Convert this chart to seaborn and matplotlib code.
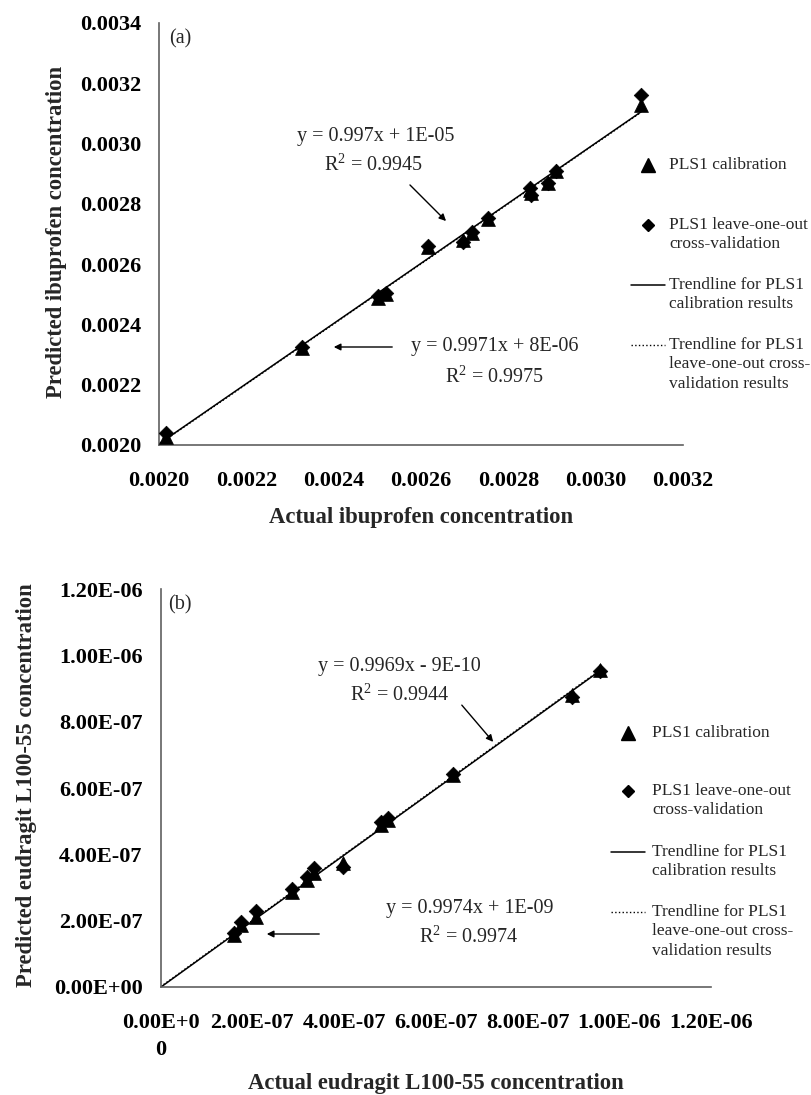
import numpy as np
import pandas as pd
import matplotlib
matplotlib.use("Agg")
import matplotlib.pyplot as plt
import seaborn as sns
from matplotlib.lines import Line2D

# ---------------- Data: panel (a) ibuprofen ----------------
ibu_actual = [0.002017, 0.002327, 0.002501, 0.002520, 0.002617, 0.002696,
              0.002716, 0.002754, 0.002849, 0.002851, 0.002891, 0.002910, 0.003104]
ibu_pred_cal = [0.002028, 0.002323, 0.002487, 0.002501, 0.002656, 0.002680,
                0.002704, 0.002749, 0.002845, 0.002836, 0.002870, 0.002910, 0.003128]
ibu_pred_cv = [0.002039, 0.002325, 0.002493, 0.002503, 0.002660, 0.002672,
               0.002706, 0.002751, 0.002853, 0.002829, 0.002868, 0.002908, 0.003161]
ibu_fit_cal = [0.997, 1e-05]
ibu_fit_cv = [0.9971, 8e-06]
ibu_ticks = [0.0020, 0.0022, 0.0024, 0.0026, 0.0028, 0.0030, 0.0032, 0.0034]
ibu_xticks = [0.0020, 0.0022, 0.0024, 0.0026, 0.0028, 0.0030, 0.0032]

# ---------------- Data: panel (b) eudragit ----------------
eud_actual = [1.59e-7, 1.75e-7, 2.07e-7, 2.86e-7, 3.19e-7, 3.35e-7, 3.98e-7,
              4.81e-7, 4.95e-7, 6.38e-7, 8.97e-7, 9.58e-7]
eud_pred_cal = [1.57e-7, 1.87e-7, 2.10e-7, 2.88e-7, 3.22e-7, 3.44e-7, 3.74e-7,
                4.90e-7, 5.05e-7, 6.40e-7, 8.80e-7, 9.58e-7]
eud_pred_cv = [1.64e-7, 1.96e-7, 2.28e-7, 2.95e-7, 3.33e-7, 3.59e-7, 3.63e-7,
               4.97e-7, 5.10e-7, 6.42e-7, 8.74e-7, 9.54e-7]
eud_fit_cal = [0.9969, -9e-10]
eud_fit_cv = [0.9974, 1e-09]
eud_ticks = [0.0, 2e-7, 4e-7, 6e-7, 8e-7, 1.0e-6, 1.2e-6]
eud_ytick_labels = ["0.00E+00", "2.00E-07", "4.00E-07", "6.00E-07", "8.00E-07", "1.00E-06", "1.20E-06"]
eud_xtick_labels = ["0.00E+0\n0", "2.00E-07", "4.00E-07", "6.00E-07", "8.00E-07", "1.00E-06", "1.20E-06"]

legend_labels = ["PLS1 calibration", "PLS1 leave-one-out\ncross-validation",
                 "Trendline for PLS1\ncalibration results",
                 "Trendline for PLS1\nleave-one-out cross-\nvalidation results"]

sns.set_theme(style="white")
plt.rcParams['font.family'] = ['Liberation Serif', 'DejaVu Serif']
plt.rcParams['mathtext.fontset'] = 'custom'
plt.rcParams['mathtext.rm'] = 'Liberation Serif'

W, H = 812, 1095
fig = plt.figure(figsize=(W / 100, H / 100), dpi=100)
fig.patch.set_facecolor("white")


def fx(px):
    return px / W


def fy(py):
    return 1 - py / H


SPINE = "#606060"
TICK_FS = 16
LAB_FS = 16.3
ANN_FS = 14.5
LEG_FS = 12.5


def style_axes(ax):
    sns.despine(ax=ax)
    for s in ["left", "bottom"]:
        ax.spines[s].set_color(SPINE)
        ax.spines[s].set_linewidth(1.2)
    ax.tick_params(axis="both", which="major", direction="out", length=7, width=1.1,
                   color=SPINE, labelsize=TICK_FS, labelcolor="black")
    ax.tick_params(axis="y", pad=6)
    ax.tick_params(axis="x", pad=12)
    for lab in ax.get_xticklabels() + ax.get_yticklabels():
        lab.set_fontweight("bold")
    ax.set_facecolor("white")
    ax.grid(False)


def draw_panel(ax, actual, cal, cv, fit_cal, fit_cv, xlo):
    df = pd.DataFrame({"actual": actual, "cal": cal, "cv": cv})
    sns.scatterplot(data=df, x="actual", y="cal", marker="^", s=100, color="black",
                    edgecolor="black", linewidth=0.5, ax=ax, zorder=3, legend=False)
    sns.scatterplot(data=df, x="actual", y="cv", marker="D", s=55, color="black",
                    edgecolor="black", linewidth=0.5, ax=ax, zorder=4, legend=False)
    xs = np.array([xlo, max(actual)])
    tl = pd.DataFrame({"x": xs, "cal": fit_cal[0] * xs + fit_cal[1],
                       "cv": fit_cv[0] * xs + fit_cv[1]})
    sns.lineplot(data=tl, x="x", y="cal", color="black", lw=1.1, ax=ax, zorder=2)
    sns.lineplot(data=tl, x="x", y="cv", color="black", lw=1.0, linestyle=":", ax=ax, zorder=2)


def draw_legend(x_handle0, x_handle1, x_text, ys):
    # ys: y positions (px) of first text lines of the four entries
    xm = (x_handle0 + x_handle1) / 2
    fig.add_artist(Line2D([fx(xm)], [fy(ys[0])], marker="^", markersize=9.5, color="black",
                          linestyle="none", transform=fig.transFigure))
    fig.add_artist(Line2D([fx(xm)], [fy(ys[1])], marker="D", markersize=6.5, color="black",
                          linestyle="none", transform=fig.transFigure))
    fig.add_artist(Line2D([fx(x_handle0), fx(x_handle1)], [fy(ys[2])] * 2, color="black",
                          lw=1.1, transform=fig.transFigure))
    fig.add_artist(Line2D([fx(x_handle0), fx(x_handle1)], [fy(ys[3])] * 2, color="black",
                          lw=1.0, linestyle=":", transform=fig.transFigure))
    for lab, y in zip(legend_labels, ys):
        fig.text(fx(x_text), fy(y) + 0.0072, lab, fontsize=LEG_FS, va="top", ha="left",
                 linespacing=1.27)


# ---------------- Panel (a) ----------------
ax1 = fig.add_axes([fx(159), fy(445), fx(683) - fx(159), fy(22.7) - fy(445)])
draw_panel(ax1, ibu_actual, ibu_pred_cal, ibu_pred_cv, ibu_fit_cal, ibu_fit_cv, 0.0020)
ax1.set_xlim(0.0020, 0.0032)
ax1.set_ylim(0.0020, 0.0034)
ax1.set_xticks(ibu_xticks)
ax1.set_yticks(ibu_ticks)
ax1.set_xticklabels([f"{t:.4f}" for t in ibu_xticks])
ax1.set_yticklabels([f"{t:.4f}" for t in ibu_ticks])
style_axes(ax1)
ax1.set_xlabel("")
ax1.set_ylabel("")
fig.text(fx(421), fy(517), "Actual ibuprofen concentration", fontsize=LAB_FS,
         fontweight="bold", ha="center", va="center")
fig.text(fx(57), fy(232), "Predicted ibuprofen concentration", fontsize=LAB_FS,
         fontweight="bold", ha="center", va="center", rotation=90)
fig.text(fx(180), fy(39), "(a)", fontsize=ANN_FS, ha="center", va="center")

fig.text(fx(376), fy(137), "y = 0.997x + 1E-05", fontsize=ANN_FS, ha="center", va="center")
fig.text(fx(374), fy(165), "R$^2$ = 0.9945", fontsize=ANN_FS, ha="center", va="center")
fig.add_artist(matplotlib.patches.FancyArrowPatch((fx(408), fy(183)), (fx(448), fy(223)),
               transform=fig.transFigure, arrowstyle="-|>", mutation_scale=10,
               color="black", lw=1.0))
fig.text(fx(495), fy(347), "y = 0.9971x + 8E-06", fontsize=ANN_FS, ha="center", va="center")
fig.text(fx(495), fy(377), "R$^2$ = 0.9975", fontsize=ANN_FS, ha="center", va="center")
fig.add_artist(matplotlib.patches.FancyArrowPatch((fx(395), fy(347)), (fx(331), fy(347)),
               transform=fig.transFigure, arrowstyle="-|>", mutation_scale=10,
               color="black", lw=1.0))
draw_legend(631, 665, 669, [165, 225, 285, 345])

# ---------------- Panel (b) ----------------
ax2 = fig.add_axes([fx(160.6), fy(987), fx(711) - fx(160.6), fy(589.3) - fy(987)])
draw_panel(ax2, eud_actual, eud_pred_cal, eud_pred_cv, eud_fit_cal, eud_fit_cv, 0.0)
ax2.set_xlim(0, 1.2e-6)
ax2.set_ylim(0, 1.2e-6)
ax2.set_xticks(eud_ticks)
ax2.set_yticks(eud_ticks)
ax2.set_xticklabels(eud_xtick_labels, multialignment="center", linespacing=1.45)
ax2.set_yticklabels(eud_ytick_labels)
style_axes(ax2)
ax2.set_xlabel("")
ax2.set_ylabel("")
fig.text(fx(436), fy(1083), "Actual eudragit L100-55 concentration", fontsize=LAB_FS,
         fontweight="bold", ha="center", va="center")
fig.text(fx(27), fy(785), "Predicted eudragit L100-55 concentration", fontsize=LAB_FS,
         fontweight="bold", ha="center", va="center", rotation=90)
fig.text(fx(180), fy(605), "(b)", fontsize=ANN_FS, ha="center", va="center")

fig.text(fx(399), fy(667), "y = 0.9969x - 9E-10", fontsize=ANN_FS, ha="center", va="center")
fig.text(fx(400), fy(695), "R$^2$ = 0.9944", fontsize=ANN_FS, ha="center", va="center")
fig.add_artist(matplotlib.patches.FancyArrowPatch((fx(460), fy(703)), (fx(495), fy(744)),
               transform=fig.transFigure, arrowstyle="-|>", mutation_scale=10,
               color="black", lw=1.0))
fig.text(fx(470), fy(908), "y = 0.9974x + 1E-09", fontsize=ANN_FS, ha="center", va="center")
fig.text(fx(469), fy(937), "R$^2$ = 0.9974", fontsize=ANN_FS, ha="center", va="center")
fig.add_artist(matplotlib.patches.FancyArrowPatch((fx(322), fy(934)), (fx(264), fy(934)),
               transform=fig.transFigure, arrowstyle="-|>", mutation_scale=10,
               color="black", lw=1.0))
draw_legend(611, 645, 652, [733, 791, 852, 912])

fig.savefig("out.png", dpi=100, facecolor="white")
